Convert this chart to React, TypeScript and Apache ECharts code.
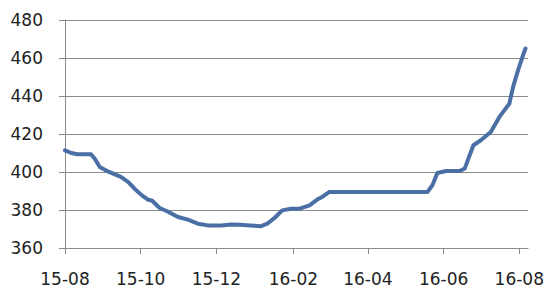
import React, { useEffect, useRef } from "react";
import * as echarts from "echarts";

const dates = [
  "2015-08-01", "2015-08-06", "2015-08-11", "2015-08-22", "2015-08-25", "2015-08-29",
  "2015-09-04", "2015-09-15", "2015-09-21", "2015-09-26", "2015-10-02", "2015-10-07",
  "2015-10-10", "2015-10-16", "2015-10-23", "2015-10-31", "2015-11-08", "2015-11-16",
  "2015-11-24", "2015-12-05", "2015-12-13", "2015-12-20", "2015-12-28", "2016-01-06",
  "2016-01-11", "2016-01-17", "2016-01-23", "2016-01-30", "2016-02-06", "2016-02-14",
  "2016-02-21", "2016-02-24", "2016-03-01", "2016-05-19", "2016-05-23", "2016-05-27",
  "2016-06-03", "2016-06-14", "2016-06-18", "2016-06-22", "2016-06-25", "2016-07-01",
  "2016-07-09", "2016-07-16", "2016-07-24", "2016-07-27", "2016-07-31", "2016-08-05",
  "2016-08-06",
];
const values = [
  411.4, 410, 409.3, 409.3, 407, 402.6,
  400.5, 397.4, 394.7, 391.2, 387.7, 385.4,
  385, 381.2, 379.1, 376.3, 374.9, 372.8,
  371.9, 371.9, 372.4, 372.2, 371.9, 371.5,
  372.8, 375.9, 379.8, 380.7, 380.7, 382.4,
  385.8, 386.8, 389.5, 389.5, 393, 399.5,
  400.5, 400.5, 401.8, 408.8, 414.1, 416.7,
  421.1, 429, 436, 444.8, 453.6, 463.3,
  465,
];
const tickLabels = ["15-08", "15-10", "15-12", "16-02", "16-04", "16-06", "16-08"];
const axisStart = "2015-08-01";
const axisEnd = "2016-08-08";

const DAY = 86400000;
function toTs(s: string): number {
  const [y, m, d] = s.split("-").map(Number);
  return Date.UTC(y, m - 1, d);
}
function labelToTs(l: string): number {
  const [yy, mm] = l.split("-").map(Number);
  return Date.UTC(2000 + yy, mm - 1, 1);
}
const startTs = toTs(axisStart);
const dayOf = (ts: number) => Math.round((ts - startTs) / DAY);

export default function App() {
  const ref = useRef<HTMLDivElement>(null);
  useEffect(() => {
    if (!ref.current) return;
    const chart = echarts.init(ref.current, null, { renderer: "svg" });
    const tickDays = tickLabels.map((l) => dayOf(labelToTs(l)));
    const labelFor = (v: number) => {
      let best = 0;
      tickDays.forEach((d, i) => {
        if (Math.abs(d - v) < Math.abs(tickDays[best] - v)) best = i;
      });
      return tickLabels[best];
    };
    const font = "DejaVu Sans, Verdana, sans-serif";
    const gray = "#8a8a8a";
    chart.setOption({
      animation: false,
      grid: { left: 65, right: 22, top: 20, bottom: 52 },
      xAxis: {
        type: "value",
        min: 0,
        max: dayOf(toTs(axisEnd)),
        axisLine: { show: true, lineStyle: { color: gray, width: 1 } },
        axisTick: { show: true, length: 6, lineStyle: { color: gray }, customValues: tickDays },
        axisLabel: {
          customValues: tickDays,
          margin: 22,
          color: "#222",
          fontSize: 17,
          fontFamily: font,
          formatter: (v: number) => labelFor(v),
          showMinLabel: true,
          showMaxLabel: true,
        },
        splitLine: { show: false },
      },
      yAxis: {
        type: "value",
        min: 360,
        max: 480,
        interval: 20,
        axisLine: { show: true, lineStyle: { color: gray, width: 1 } },
        axisTick: { show: true, length: 6, lineStyle: { color: gray } },
        axisLabel: { margin: 22, color: "#222", fontSize: 17, fontFamily: font },
        splitLine: { show: true, lineStyle: { color: gray, width: 1 } },
      },
      series: [
        {
          type: "line",
          data: dates.map((d, i) => [dayOf(toTs(d)), values[i]]),
          showSymbol: false,
          lineStyle: { color: "#4a6fa5", width: 4, join: "round", cap: "round" },
          itemStyle: { color: "#4a6fa5" },
        },
      ],
    });
    return () => chart.dispose();
  }, []);
  return (
    <div
      ref={ref}
      style={{ position: "fixed", left: 0, top: 0, width: 550, height: 300, background: "#fff" }}
    />
  );
}
